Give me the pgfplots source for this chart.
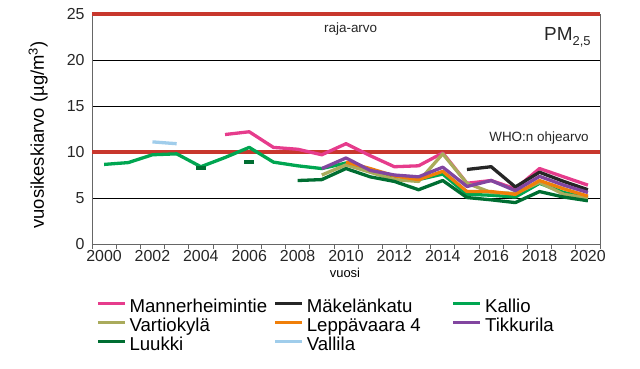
\documentclass[border=0pt]{standalone}
\usepackage{fontspec}
\setmainfont{Liberation Sans}
\usepackage{pgfplots}
\pgfplotsset{compat=1.18}
\definecolor{cMan}{HTML}{E63C8C}
\definecolor{cMak}{HTML}{262626}
\definecolor{cKal}{HTML}{00A651}
\definecolor{cVar}{HTML}{AAAB5C}
\definecolor{cLep}{HTML}{F07F09}
\definecolor{cTik}{HTML}{8246A0}
\definecolor{cLuu}{HTML}{006E32}
\definecolor{cVal}{HTML}{A0CDEB}
\definecolor{cRed}{HTML}{C8372D}
\begin{document}
\begin{tikzpicture}
\useasboundingbox (-92bp,-125bp) rectangle (548bp,244bp);
\begin{axis}[
  scale only axis, width=508bp, height=230bp,
  xmin=1999.5, xmax=2020.5, ymin=0, ymax=25,
  clip=false,
  axis line style={draw=gray!80!black, line width=0.8bp},
  xtick={1999.5,2000.5,...,2020.5},
  xticklabels={},
  extra x ticks={2000,2002,...,2020},
  extra x tick style={xtick style={draw=none}, xticklabel style={yshift=2bp}},
  ytick={0,5,...,25},
  tick align=outside,
  major tick length=5bp,
  xtick pos=bottom, ytick pos=left,
  xtick style={draw=gray!80!black, line width=0.8bp},
  ytick style={draw=none},
  ymajorgrids, grid style={black, line width=0.7bp},
  /pgf/number format/1000 sep={},
  /pgf/number format/assume math mode=true,
  tick label style={font=\fontsize{16}{16}\selectfont, text=black!85},
  yticklabel style={xshift=1bp},
  ylabel={vuosikeskiarvo (µg/m\textsuperscript{3})},
  ylabel style={at={(axis description cs:-0.106,0.474)}, anchor=center, font=\fontsize{18.5}{18.5}\selectfont},
  xlabel={vuosi},
  xlabel style={at={(axis description cs:0.498,-0.125)}, anchor=center, font=\fontsize{13}{13}\selectfont},
  legend columns=3,
  legend style={at={(0.0079,-0.239)}, anchor=north west, draw=none, fill=none,
    inner sep=0pt, column sep=3bp, row sep=1.5bp,
    nodes={inner sep=0pt, text height=13.5bp, text depth=4bp},
    font=\fontsize{18.7}{18.7}\selectfont},
  legend cell align=left,
  legend image code/.code={\draw[#1] (0bp,4.5bp) -- (27bp,4.5bp);},
  every axis plot/.append style={line width=3.3bp, line join=round},
]
% limit lines
\addplot[cRed, line width=3.8bp, forget plot] coordinates {(1999.5,25) (2020.5,25)};
\addplot[cRed, line width=3.8bp, forget plot] coordinates {(1999.5,10) (2020.5,10)};

\addplot[cMan] coordinates {(2005,11.9) (2006,12.2) (2007,10.5) (2008,10.3) (2009,9.7) (2010,10.9) (2011,9.6) (2012,8.4) (2013,8.5) (2014,9.9) (2015,6.6) (2016,6.9) (2017,6.0) (2018,8.2) (2019,7.3) (2020,6.4)};
\addlegendentry{\makebox[141bp][l]{Mannerheimintie}}
\addplot[cMak] coordinates {(2015,8.1) (2016,8.4) (2017,6.2) (2018,7.8) (2019,6.8) (2020,5.9)};
\addlegendentry{\makebox[142bp][l]{Mäkelänkatu}}
\addplot[cKal] coordinates {(2000,8.65) (2001,8.85) (2002,9.7) (2003,9.8) (2004,8.4) (2005,9.4) (2006,10.5) (2007,8.9) (2008,8.5) (2009,8.2) (2010,8.8) (2011,7.9) (2012,7.4) (2013,7.0) (2014,7.6) (2015,5.4) (2016,5.3) (2017,5.1) (2018,6.6) (2019,5.6) (2020,5.0)};
\addlegendentry{Kallio}
\addplot[cVar] coordinates {(2009,7.5) (2010,8.6) (2011,7.8) (2012,7.0) (2013,6.8) (2014,9.8) (2015,6.6) (2016,5.6) (2017,5.5) (2018,6.7) (2019,5.4) (2020,5.0)};
\addlegendentry{\makebox[141bp][l]{Vartiokylä}}
\addplot[cLep] coordinates {(2010,8.9) (2011,8.2) (2012,7.4) (2013,7.0) (2014,7.9) (2015,5.7) (2016,5.7) (2017,5.4) (2018,6.9) (2019,6.0) (2020,5.2)};
\addlegendentry{\makebox[142bp][l]{Leppävaara 4}}
\addplot[cTik] coordinates {(2009,8.2) (2010,9.35) (2011,8.0) (2012,7.5) (2013,7.3) (2014,8.35) (2015,6.25) (2016,6.9) (2017,5.8) (2018,7.35) (2019,6.4) (2020,5.6)};
\addlegendentry{Tikkurila}
\addplot[cLuu] coordinates {(2008,6.9) (2009,7.0) (2010,8.2) (2011,7.3) (2012,6.8) (2013,5.9) (2014,6.9) (2015,5.05) (2016,4.8) (2017,4.5) (2018,5.7) (2019,5.1) (2020,4.7)};
\addlegendentry{\makebox[141bp][l]{Luukki}}
\addplot[cLuu, forget plot, only marks, mark=-, mark size=5bp, mark options={line width=3.8bp, cLuu}] coordinates {(2004,8.3) (2006,8.9)};
\addplot[cVal] coordinates {(2002,11.1) (2003,10.9)};
\addlegendentry{Vallila}

\node[anchor=base west, font=\fontsize{13.5}{13.5}\selectfont, text=black!85] at (axis cs:2008.95,23.0) {raja-arvo};
\node[anchor=base east, font=\fontsize{13.5}{13.5}\selectfont, text=black!85] at (axis cs:2020.18,11.12) {WHO:n ohjearvo};
\node[anchor=base east, inner sep=0pt, font=\fontsize{19}{19}\selectfont, text=black!85] at (axis cs:2020.12,22.17) {PM\raisebox{-0.28em}{\fontsize{13}{13}\selectfont 2,5}};
\end{axis}
\end{tikzpicture}
\end{document}
